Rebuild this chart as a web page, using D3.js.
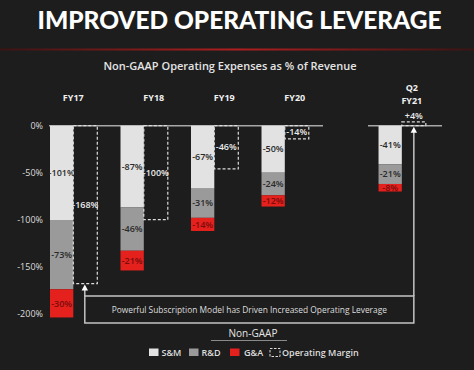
<!DOCTYPE html>
<html><head><meta charset="utf-8">
<script src="https://cdn.jsdelivr.net/npm/d3@7/dist/d3.min.js"></script>
<style>
html,body{margin:0;padding:0;background:#1d1d1d;}
svg{display:block;font-family:"Open Sans","Lato",sans-serif;}
</style></head>
<body>
<svg id="chart" width="474" height="370"></svg>
<script>
// ---- data ----
const categories = ["FY17","FY18","FY19","FY20","Q2 FY21"];
const snm = [-101,-87,-67,-50,-41];
const rnd = [-73,-46,-31,-24,-21];
const gna = [-30,-21,-14,-12,-8];
const operatingMargin = [-168,-100,-46,-14,4];
const yTicks = [0,-50,-100,-150,-200];
const seriesNames = ["S&M","R&D","G&A"];
const seriesColors = ["#e2e2e2","#9a9a9a","#e5211d"];
const seriesTextColors = ["#2a2a2a","#2a2a2a","#7a0c0c"];

const svg = d3.select("#chart");
const W = 474, H = 370;
svg.append("rect").attr("width",W).attr("height",H).attr("fill","#1d1d1d");

// title
svg.append("text").attr("x",239.5).attr("y",29).attr("text-anchor","middle")
  .attr("fill","#ffffff").attr("font-family","Lato, 'Open Sans', sans-serif")
  .attr("font-weight",900).attr("font-size",24)
  .attr("textLength",404).attr("lengthAdjust","spacingAndGlyphs")
  .text("IMPROVED OPERATING LEVERAGE");

// red rule
const grad = svg.append("defs").append("linearGradient").attr("id","rg").attr("x1","0").attr("x2","1");
grad.append("stop").attr("offset","0").attr("stop-color","#3a1414");
grad.append("stop").attr("offset","0.5").attr("stop-color","#b01e1e");
grad.append("stop").attr("offset","1").attr("stop-color","#3a1414");
svg.append("rect").attr("x",0).attr("y",48.5).attr("width",W).attr("height",2).attr("fill","url(#rg)");

// subtitle
svg.append("text").attr("x",230).attr("y",70).attr("text-anchor","middle")
  .attr("fill","#e4e4e4").attr("font-size",11).attr("font-weight",600)
  .text("Non-GAAP Operating Expenses as % of Revenue");

// scales
const y = d3.scaleLinear().domain([0,-200]).range([125.7,313.7]);
const slot = d3.scaleLinear().domain([0,3]).range([50,261.5]);
const barW = 23.3, boxW = 24;
const barX = i => slot(i < 4 ? i : i + 0.66);

// axis
const axis = d3.axisLeft(y).tickValues(yTicks).tickSize(0).tickPadding(0)
  .tickFormat(d => d + "%");
const ag = svg.append("g").attr("transform","translate(43,0)").call(axis);
ag.select(".domain").remove();
ag.selectAll("text").attr("fill","#dcdcdc").attr("font-size",9)
  .attr("font-family","'Open Sans',sans-serif");

// baselines
svg.append("line").attr("x1",49).attr("x2",323).attr("y1",y(0)).attr("y2",y(0))
  .attr("stroke","#a8a8a8").attr("stroke-width",1.5);
svg.append("line").attr("x1",368).attr("x2",442).attr("y1",y(0)).attr("y2",y(0))
  .attr("stroke","#a8a8a8").attr("stroke-width",1.5);

// stacked bars
const series = [snm, rnd, gna];
categories.forEach((c,i) => {
  let acc = 0;
  series.forEach((s,k) => {
    const v = s[i];
    const y0 = y(acc), y1 = y(acc + v);
    svg.append("rect").attr("x",barX(i)).attr("y",y0).attr("width",barW).attr("height",y1-y0)
      .attr("fill",seriesColors[k]);
    svg.append("text").attr("x",barX(i)+barW/2).attr("y",(y0+y1)/2).attr("dy","0.35em")
      .attr("text-anchor","middle").attr("font-size",9).attr("font-weight",600)
      .attr("fill",seriesTextColors[k]).text(v + "%");
    acc += v;
  });
});

// operating margin dashed boxes
categories.forEach((c,i) => {
  const v = operatingMargin[i];
  const bx = barX(i) + barW;
  const yt = Math.min(y(0),y(v)), yb = Math.max(y(0),y(v));
  svg.append("rect").attr("x",bx).attr("y",yt).attr("width",boxW).attr("height",yb-yt)
    .attr("fill","none").attr("stroke","#dcdcdc").attr("stroke-width",1.2)
    .attr("stroke-dasharray","3,2");
  const ty = v >= 0 ? yt - 6 : (yt+yb)/2;
  svg.append("text").attr("x",bx+boxW/2).attr("y",ty).attr("dy","0.35em")
    .attr("text-anchor","middle").attr("font-size",9).attr("font-weight",600)
    .attr("fill","#ececec").text((v>0?"+":"") + v + "%");
});

// category labels
categories.forEach((c,i) => {
  const cx = i === 0 ? barX(i) + barW : barX(i) + barW + boxW/2 - 2;
  const parts = c.split(" ");
  const t = svg.append("text").attr("text-anchor","middle").attr("font-size",9)
    .attr("font-weight",700).attr("fill","#f0f0f0");
  if (parts.length === 1) {
    t.attr("x",cx).attr("y",101).text(c);
  } else {
    t.append("tspan").attr("x",cx).attr("y",91).text(parts[0]);
    t.append("tspan").attr("x",cx).attr("y",104).text(parts[1]);
  }
});

// callout box with arrows
const lx = barX(0) + barW + boxW/2 - 0.5;
const rx = barX(4) + barW + boxW/2;
const boxTop = 296, boxBot = 323;
svg.append("rect").attr("x",lx).attr("y",boxTop).attr("width",rx-lx).attr("height",boxBot-boxTop)
  .attr("fill","none").attr("stroke","#c4c4c4").attr("stroke-width",1.5);
svg.append("line").attr("x1",lx).attr("x2",lx).attr("y1",boxTop).attr("y2",y(operatingMargin[0])+6)
  .attr("stroke","#c4c4c4").attr("stroke-width",1.5);
svg.append("line").attr("x1",rx).attr("x2",rx).attr("y1",boxTop).attr("y2",y(0)+6)
  .attr("stroke","#c4c4c4").attr("stroke-width",1.5);
const tri = (x, tip) => `M${x},${tip} L${x-3.2},${tip+6} L${x+3.2},${tip+6} Z`;
svg.append("path").attr("d",tri(lx, y(operatingMargin[0])+1)).attr("fill","#ffffff");
svg.append("path").attr("d",tri(rx, y(0)+1)).attr("fill","#ffffff");
svg.append("text").attr("x",(lx+rx)/2).attr("y",310).attr("dy","0.35em").attr("text-anchor","middle")
  .attr("font-size",8.4).attr("fill","#dedede")
  .text("Powerful Subscription Model has Driven Increased Operating Leverage");

// Non-GAAP label
svg.append("text").attr("x",253).attr("y",333).attr("dy","0.35em").attr("text-anchor","middle")
  .attr("font-size",10).attr("fill","#e4e4e4").text("Non-GAAP");
svg.append("line").attr("x1",211).attr("x2",287).attr("y1",340.5).attr("y2",340.5)
  .attr("stroke","#8a8a8a").attr("stroke-width",1);

// legend
const legendItems = [
  {name:seriesNames[0], color:seriesColors[0], x:149, tx:161.5},
  {name:seriesNames[1], color:seriesColors[1], x:189, tx:201.5},
  {name:seriesNames[2], color:seriesColors[2], x:230, tx:244},
];
const ly = 352.5;
legendItems.forEach(d => {
  svg.append("rect").attr("x",d.x).attr("y",ly-4).attr("width",9.5).attr("height",7.5).attr("fill",d.color);
  svg.append("text").attr("x",d.tx).attr("y",ly).attr("dy","0.35em").attr("font-size",9)
    .attr("font-weight",600).attr("fill","#dedede").text(d.name);
});
svg.append("rect").attr("x",270).attr("y",ly-4).attr("width",10).attr("height",8)
  .attr("fill","none").attr("stroke","#dcdcdc").attr("stroke-width",1).attr("stroke-dasharray","2.5,1.5");
svg.append("text").attr("x",282).attr("y",ly).attr("dy","0.35em").attr("font-size",9)
  .attr("font-weight",600).attr("fill","#dedede").text("Operating Margin");
</script>
</body></html>
